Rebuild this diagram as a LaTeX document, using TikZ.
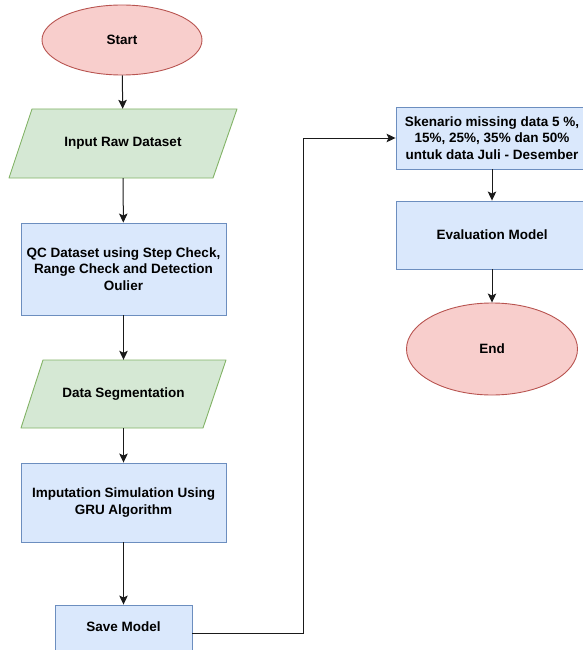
\documentclass[tikz,border=0pt]{standalone}
\usepackage{fontspec}
\setmainfont{Liberation Sans}
\usetikzlibrary{shapes.geometric,arrows.meta}

\definecolor{termfill}{HTML}{F8CECC}
\definecolor{termline}{HTML}{B85450}
\definecolor{iofill}{HTML}{D5E8D4}
\definecolor{ioline}{HTML}{82B366}
\definecolor{procfill}{HTML}{DAE8FC}
\definecolor{procline}{HTML}{6C8EBF}
\definecolor{flowline}{HTML}{1A1A1A}

\tikzset{
    terminal/.style={ellipse, draw=termline, fill=termfill, line width=0.9pt, inner sep=0pt},
    ioshape/.style={draw=ioline, fill=iofill, line width=0.9pt, line join=round},
    iobox/.style={rectangle, inner sep=0pt},
    procbox/.style={rectangle, draw=procline, fill=procfill, line width=0.9pt, align=center, inner sep=0pt},
    flow/.style={draw=flowline, line width=1pt, arrows={-Stealth[length=9pt,width=8.5pt,inset=2pt]}}
}

\begin{document}
\begin{tikzpicture}[x=1pt, y=-1pt, font=\bfseries\fontsize{13.5}{16.5}\selectfont]
    % Frame
    \useasboundingbox (0,0) rectangle (583,650);
    \clip (0,0) rectangle (583,650);

    % Parallelograms
    \filldraw[ioshape] (32,109) -- (237,109) -- (213,178) -- (9,178) -- cycle;
    \filldraw[ioshape] (43,360) -- (226,360) -- (203,428) -- (21,428) -- cycle;

    % Left column
    \node[terminal, minimum width=160pt, minimum height=70pt] (start) at (122,40) {Start};
    \node[iobox, minimum width=205pt, minimum height=69pt] (input) at (123,143.5) {Input Raw Dataset};
    \node[procbox, minimum width=205pt, minimum height=92pt] (qc) at (123.5,269)
        {QC Dataset using Step Check,\\Range Check and Detection\\Oulier};
    \node[iobox, minimum width=183pt, minimum height=68pt] (segment) at (123.5,394) {Data Segmentation};
    \node[procbox, minimum width=205pt, minimum height=79pt] (impute) at (123.5,502.5)
        {Imputation Simulation Using\\GRU Algorithm};
    \node[procbox, minimum width=137pt, minimum height=56pt] (save) at (123.5,633) {};
    \node (savetext) at (123.5,627) {Save Model};

    % Right column
    \node[procbox, minimum width=192pt, minimum height=62pt] (scenario) at (492,138)
        {Skenario missing data 5 \%,\\15\%, 25\%, 35\% dan 50\%\\untuk data Juli - Desember};
    \node[procbox, minimum width=192pt, minimum height=68pt] (evaluate) at (492,235) {Evaluation Model};
    \node[terminal, minimum width=171pt, minimum height=92pt] (finish) at (492,349) {End};

    % Arrows
    \draw[flow] (start) -- (input);
    \draw[flow] (input) -- (qc);
    \draw[flow] (qc) -- (segment);
    \draw[flow] (segment) -- (impute);
    \draw[flow] (impute) -- (save);
    \draw[flow] (save.east) -| (303,138) -- (scenario.west);
    \draw[flow] (scenario) -- (evaluate);
    \draw[flow] (evaluate) -- (finish);
\end{tikzpicture}
\end{document}
